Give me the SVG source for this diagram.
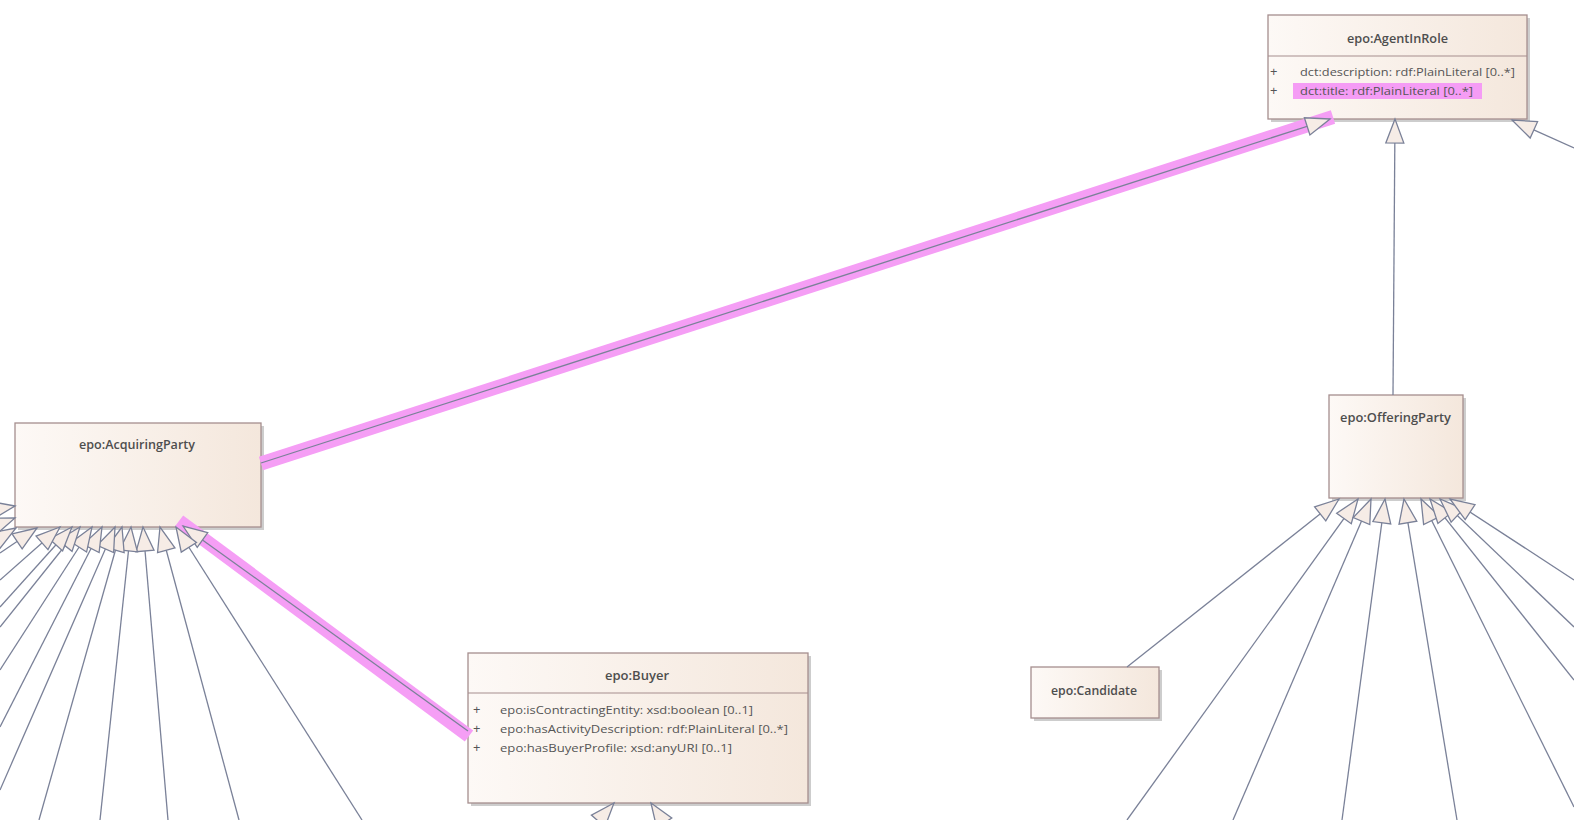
<svg xmlns="http://www.w3.org/2000/svg" width="1574" height="820" viewBox="0 0 1574 820">
<style>
.box{stroke:#a58e8e;stroke-width:1.3;fill:url(#g)}
.sh{fill:#cdcdcd}
.div{stroke:#a58e8e;stroke-width:1.2}
.t{font-family:"Open Sans","Liberation Sans",sans-serif;font-size:12px;font-weight:600;fill:#4e4e4e;text-anchor:middle}
.a{font-family:"Open Sans","Liberation Sans",sans-serif;font-size:11.5px;fill:#555}
.p{font-family:"Open Sans","Liberation Sans",sans-serif;font-size:13px;fill:#555}
.ln{stroke:#7a8198;stroke-width:1.3;fill:none;marker-end:url(#gen)}
.band{stroke:#f59ef5;stroke-width:14;fill:none;stroke-linecap:butt}
</style>
<defs>
<linearGradient id="g" x1="0" y1="0" x2="1" y2="0">
<stop offset="0" stop-color="#fdf9f6"/>
<stop offset="1" stop-color="#f4e7dc"/>
</linearGradient>
<marker id="gen" viewBox="-27 -12 30 24" markerWidth="30" markerHeight="24" refX="0" refY="0" orient="auto" markerUnits="userSpaceOnUse">
<path d="M0,0 L-24,-9 L-24,9 Z" fill="#f6ece6" stroke="#7a8198" stroke-width="1.3" stroke-linejoin="miter"/>
</marker>
</defs>
<rect width="1574" height="820" fill="#ffffff"/>

<g id="node-AgentInRole">
<rect class="sh" x="1271" y="18" width="259" height="104"/>
<rect class="box" x="1268" y="15" width="259" height="104"/>
<line class="div" x1="1268" y1="56" x2="1527" y2="56"/>
<text class="t" x="1397.5" y="43" textLength="101" lengthAdjust="spacingAndGlyphs">epo:AgentInRole</text>
<rect x="1293" y="83" width="189" height="16" fill="#f59cf5"/>
<text class="p" x="1270" y="76">+</text>
<text class="a" x="1300" y="76" textLength="215" lengthAdjust="spacingAndGlyphs">dct:description: rdf:PlainLiteral [0..*]</text>
<text class="p" x="1270" y="95">+</text>
<text class="a" x="1300" y="95" textLength="173" lengthAdjust="spacingAndGlyphs">dct:title: rdf:PlainLiteral [0..*]</text>
</g>

<g id="node-AcquiringParty">
<rect class="sh" x="18" y="426" width="246" height="104"/>
<rect class="box" x="15" y="423" width="246" height="104"/>
<text class="t" x="137" y="449" textLength="116" lengthAdjust="spacingAndGlyphs">epo:AcquiringParty</text>
</g>

<g id="node-Buyer">
<rect class="sh" x="471" y="656" width="340" height="150"/>
<rect class="box" x="468" y="653" width="340" height="150"/>
<line class="div" x1="468" y1="693" x2="808" y2="693"/>
<text class="t" x="637" y="680" textLength="64" lengthAdjust="spacingAndGlyphs">epo:Buyer</text>
<text class="p" x="473" y="714">+</text>
<text class="a" x="500" y="714" textLength="253" lengthAdjust="spacingAndGlyphs">epo:isContractingEntity: xsd:boolean [0..1]</text>
<text class="p" x="473" y="733">+</text>
<text class="a" x="500" y="733" textLength="288" lengthAdjust="spacingAndGlyphs">epo:hasActivityDescription: rdf:PlainLiteral [0..*]</text>
<text class="p" x="473" y="752">+</text>
<text class="a" x="500" y="752" textLength="232" lengthAdjust="spacingAndGlyphs">epo:hasBuyerProfile: xsd:anyURI [0..1]</text>
</g>

<g id="node-OfferingParty">
<rect class="sh" x="1332" y="398" width="134" height="103"/>
<rect class="box" x="1329" y="395" width="134" height="103"/>
<text class="t" x="1395.5" y="422" textLength="111" lengthAdjust="spacingAndGlyphs">epo:OfferingParty</text>
</g>

<g id="node-Candidate">
<rect class="sh" x="1034" y="670" width="128" height="51"/>
<rect class="box" x="1031" y="667" width="128" height="51"/>
<text class="t" x="1094" y="695" textLength="86" lengthAdjust="spacingAndGlyphs">epo:Candidate</text>
</g>

<g id="connectors">
<line class="band" x1="261" y1="463.5" x2="1333" y2="117"/>
<line class="band" x1="179" y1="521" x2="469" y2="736"/>

<path class="ln" d="M261,463 L1330,119"/>
<path class="ln" d="M1393,395 L1395,119"/>
<path class="ln" d="M1574,148 L1512,120"/>
<path class="ln" d="M468,731 L183,526"/>

<path class="ln" d="M362,820 L176,527"/>
<path class="ln" d="M239,820 L160,527"/>
<path class="ln" d="M168,820 L143,527"/>
<path class="ln" d="M100,820 L131,527"/>
<path class="ln" d="M39,820 L122,527"/>
<path class="ln" d="M0,790 L115,527"/>
<path class="ln" d="M0,727 L102,527"/>
<path class="ln" d="M0,670 L92,527"/>
<path class="ln" d="M0,627 L80,527"/>
<path class="ln" d="M0,607 L72,527"/>
<path class="ln" d="M0,580 L60,527"/>
<path class="ln" d="M0,553 L37,528"/>
<path class="ln" d="M-30,556 L16,528"/>
<path class="ln" d="M-30,535 L15,518"/>
<path class="ln" d="M-30,514 L15,506"/>

<path class="ln" d="M482,953 L614,803"/>
<path class="ln" d="M761,969 L651,803"/>

<path class="ln" d="M1127,667 L1339,499"/>
<path class="ln" d="M1127,820 L1358,499"/>
<path class="ln" d="M1233,820 L1371,499"/>
<path class="ln" d="M1342,820 L1385,499"/>
<path class="ln" d="M1457,820 L1404,499"/>
<path class="ln" d="M1574,807 L1421,499"/>
<path class="ln" d="M1574,680 L1430,499"/>
<path class="ln" d="M1574,627 L1440,499"/>
<path class="ln" d="M1574,580 L1450,499"/>
</g>
</svg>
